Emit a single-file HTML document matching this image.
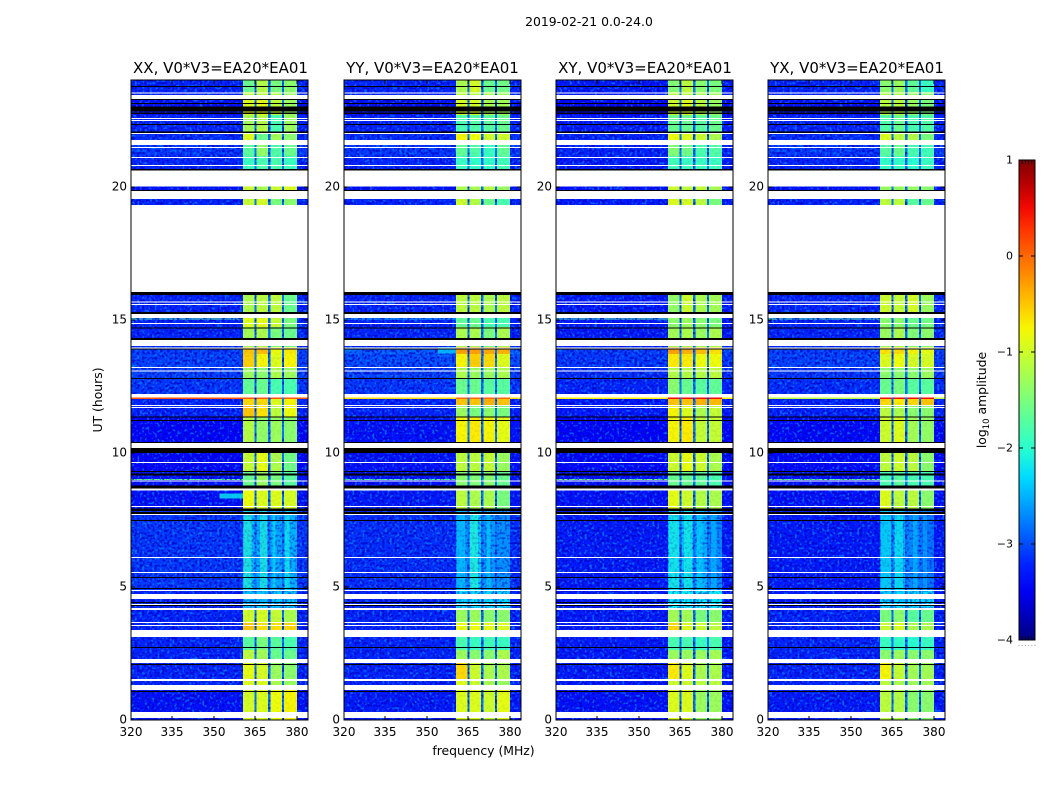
<!DOCTYPE html>
<html lang="en">
<head>
<meta charset="utf-8">
<title>2019-02-21 0.0-24.0 waterfall</title>
<style>
html,body{margin:0;padding:0;background:#fff;width:1050px;height:800px;overflow:hidden}
svg{display:block}
text{font-family:"DejaVu Sans","Liberation Sans",sans-serif;fill:#000}
</style>
</head>
<body>
<svg id="figure" xmlns="http://www.w3.org/2000/svg" width="1050" height="800" viewBox="0 0 1050 800">
  <defs>
    <filter id="speckle-light" x="0" y="0" width="100%" height="100%" color-interpolation-filters="sRGB">
      <feTurbulence type="fractalNoise" baseFrequency="0.4" numOctaves="1" seed="4"/>
      <feColorMatrix type="matrix" values="0 0 0 0 0  0 0 0 0 0.52  0 0 0 0 1  8 0 0 0 -4.3"/>
    </filter>
    <filter id="speckle-dark" x="0" y="0" width="100%" height="100%" color-interpolation-filters="sRGB">
      <feTurbulence type="fractalNoise" baseFrequency="0.4" numOctaves="1" seed="11"/>
      <feColorMatrix type="matrix" values="0 0 0 0 0  0 0 0 0 0  0 0 0 0 0.75  8 0 0 0 -4.0"/>
    </filter>
    <linearGradient id="colorbar-gradient" x1="0" y1="1" x2="0" y2="0"></linearGradient>
  </defs>
  <rect x="0" y="0" width="1050" height="800" fill="#fff"/>
  <text x="589" y="26" font-size="12.4" text-anchor="middle">2019-02-21 0.0-24.0</text>
  <text x="220.5" y="73" font-size="15" text-anchor="middle">XX, V0*V3=EA20*EA01</text>
  <text x="432.5" y="73" font-size="15" text-anchor="middle">YY, V0*V3=EA20*EA01</text>
  <text x="645" y="73" font-size="15" text-anchor="middle">XY, V0*V3=EA20*EA01</text>
  <text x="857" y="73" font-size="15" text-anchor="middle">YX, V0*V3=EA20*EA01</text>
  <text x="483.5" y="755" font-size="12.4" text-anchor="middle">frequency (MHz)</text>
  <text transform="translate(102 400) rotate(-90)" font-size="12.4" text-anchor="middle">UT (hours)</text>
  <text transform="translate(986 400) rotate(-90)" font-size="12.4" text-anchor="middle">log<tspan font-size="8.5" dy="3">10</tspan><tspan dy="-3"> amplitude</tspan></text>
  <g id="panels"></g>
  <g id="colorbar"></g>
</svg>
<script>
// Hour boundaries of the time segments, top to bottom
const segmentEdges = [24,23.55,23.29,22.69,21.98,21.75,21.15,20.63,19.8,16.05,15.26,14.74,13.99,13.73,13.24,12.83,12.23,12.04,11.78,11.36,10.39,9.34,8.63,7.88,4.88,4.13,3.64,3.38,2.63,2.29,1.5,1.13,0];

// log10 amplitude per segment: [background, band 1, band 2, band 3, band 4]
const levelsXX = [
[-3.2,-1.6,-1.15,-1.5,-1.4],[-3.2,-1.1,-1.1,-1.2,-1.3],[-3.3,-0.9,-0.85,-1.1,-1.3],[-3.2,-1.25,-1.15,-1.8,-1.3],
[-3.15,-0.9,-1.6,-1.25,-1.4],[-3.1,-1.7,-1.35,-1.75,-1.6],[-3.2,-1.9,-1.8,-1.8,-1.9],[-3.3,-1.0,-1.2,-1.0,-0.9],
[-3.2,-1.05,-0.95,-1.5,-1.4],[-3.2,-1.2,-1.1,-1.1,-1.6],[-3.2,-0.9,-0.85,-1.05,-1.5],[-3.2,-1.25,-1.2,-1.5,-1.6],
[-3.05,-0.5,-0.45,-0.8,-0.7],[-3.05,-0.55,-0.75,-0.9,-0.75],[-3.05,-1.3,-1.4,-1.2,-1.3],[-3.1,-1.65,-1.6,-1.8,-1.8],
[0.1,0.1,0.1,0.1,0.1],[-3.2,-0.6,-0.6,-0.9,-0.75],[-3.2,-0.5,-0.65,-1.1,-0.8],[-3.4,-1.15,-1.35,-1.3,-1.4],
[-3.4,-1.05,-0.85,-1.2,-1.55],[-3.3,-1.6,-1.3,-1.5,-1.7],[-3.3,-0.8,-0.9,-0.9,-0.95],[-3.1,-2.45,-2.5,-2.55,-2.5],
[-3.2,-2.4,-2.4,-2.4,-2.4],[-3.2,-1.0,-0.95,-1.05,-1.2],[-3.2,-0.5,-0.65,-0.65,-0.6],[-3.2,-1.7,-1.5,-1.7,-1.8],
[-3.2,-1.1,-1.25,-1.6,-1.6],[-3.2,-0.85,-0.95,-1.3,-1.4],[-3.2,-0.9,-0.9,-1.2,-1.3],[-3.3,-0.95,-0.9,-0.8,-0.75]];
const levelsYY = [
[-3.2,-1.2,-0.95,-1.6,-1.55],[-3.2,-1.1,-1.1,-1.2,-1.3],[-3.3,-0.95,-0.95,-1.2,-1.25],[-3.2,-1.8,-1.75,-1.7,-1.6],
[-3.15,-0.75,-0.8,-1.0,-1.0],[-3.1,-1.65,-1.75,-1.9,-1.65],[-3.2,-1.9,-1.95,-1.95,-1.85],[-3.3,-1.2,-1.2,-1.1,-1.3],
[-3.2,-1.0,-1.15,-1.6,-1.8],[-3.2,-1.1,-1.1,-1.2,-1.1],[-3.2,-1.65,-1.6,-1.8,-1.8],[-3.2,-1.2,-1.2,-1.5,-1.2],
[-2.9,-0.3,-0.3,-0.35,-0.4],[-3.0,-0.75,-0.55,-0.6,-0.9],[-3.05,-1.2,-1.3,-1.3,-1.2],[-3.1,-1.6,-1.6,-1.7,-1.7],
[-0.6,0.0,0.0,0.0,0.0],[-3.2,-0.5,-0.5,-0.4,-0.5],[-3.2,-1.3,-1.5,-1.4,-1.5],[-3.3,-0.75,-0.7,-0.75,-0.85],
[-3.3,-1.1,-1.1,-1.05,-1.3],[-3.3,-1.4,-1.45,-1.4,-1.6],[-3.25,-1.1,-1.2,-1.2,-1.5],[-3.15,-2.6,-2.35,-2.6,-2.65],
[-3.2,-2.3,-2.3,-2.3,-2.3],[-3.2,-1.3,-1.3,-1.4,-1.4],[-3.2,-0.8,-0.8,-0.85,-0.9],[-3.2,-1.8,-1.9,-1.85,-1.9],
[-3.2,-1.3,-1.4,-1.4,-1.2],[-3.2,-0.6,-1.0,-1.2,-1.2],[-3.2,-0.9,-1.0,-1.2,-1.3],[-3.25,-0.9,-0.9,-1.0,-0.85]];
const levelsXY = [
[-3.25,-1.45,-1.1,-1.4,-1.5],[-3.25,-1.1,-1.1,-1.2,-1.3],[-3.35,-1.0,-0.9,-1.1,-1.3],[-3.25,-1.6,-1.6,-1.7,-1.6],
[-3.2,-0.8,-0.9,-1.0,-1.2],[-3.2,-1.45,-1.55,-1.8,-1.75],[-3.25,-1.85,-1.9,-1.9,-1.9],[-3.3,-1.0,-1.1,-1.05,-1.2],
[-3.25,-0.9,-0.95,-1.1,-1.5],[-3.25,-1.35,-1.0,-1.2,-1.25],[-3.25,-1.4,-1.3,-1.4,-1.5],[-3.25,-1.25,-1.2,-1.3,-1.2],
[-3.05,-0.3,-0.4,-0.45,-0.65],[-3.1,-0.7,-0.7,-0.8,-0.8],[-3.15,-1.15,-1.15,-1.15,-1.1],[-3.2,-1.4,-1.6,-1.7,-1.65],
[-0.7,0.5,0.5,0.5,0.5],[-3.25,-0.5,-0.5,-0.4,-0.45],[-3.25,-0.75,-0.9,-1.2,-1.05],[-3.4,-0.75,-0.7,-1.05,-1.05],
[-3.35,-1.0,-0.85,-1.0,-1.2],[-3.3,-1.6,-1.6,-1.65,-1.8],[-3.3,-0.85,-1.0,-1.15,-1.2],[-3.25,-2.4,-2.4,-2.5,-2.7],
[-3.25,-2.2,-2.2,-2.2,-2.2],[-3.25,-1.25,-1.25,-1.5,-1.4],[-3.25,-0.6,-0.9,-1.0,-1.1],[-3.25,-1.8,-1.8,-1.9,-1.8],
[-3.25,-1.3,-1.3,-1.3,-1.25],[-3.25,-0.7,-0.9,-1.2,-1.2],[-3.25,-1.0,-1.0,-1.1,-1.1],[-3.3,-0.9,-0.9,-1.3,-1.3]];
const levelsYX = [
[-3.2,-1.4,-1.3,-1.65,-1.9],[-3.2,-1.2,-1.2,-1.3,-1.4],[-3.3,-1.1,-1.1,-1.3,-1.5],[-3.2,-1.75,-1.6,-1.8,-1.75],
[-3.15,-0.9,-1.1,-1.15,-1.5],[-3.1,-1.7,-1.6,-1.8,-1.85],[-3.2,-1.95,-1.95,-2.0,-1.9],[-3.3,-1.3,-1.3,-1.3,-1.4],
[-3.2,-1.1,-1.1,-1.7,-1.6],[-3.2,-1.0,-1.05,-0.95,-1.3],[-3.2,-1.4,-1.4,-1.6,-1.55],[-3.2,-1.3,-1.2,-1.45,-1.4],
[-3.05,-0.65,-0.6,-0.75,-0.85],[-3.05,-0.9,-0.8,-0.95,-0.95],[-3.1,-1.4,-1.4,-1.4,-1.3],[-3.15,-1.6,-1.5,-1.7,-1.7],
[-1.1,0.5,0.5,0.5,0.5],[-3.2,-0.6,-0.7,-0.6,-0.5],[-3.2,-1.1,-1.2,-1.4,-1.4],[-3.35,-1.0,-0.9,-1.25,-1.35],
[-3.35,-1.1,-1.0,-1.1,-1.4],[-3.3,-1.8,-1.7,-1.8,-1.8],[-3.3,-0.9,-1.1,-1.1,-1.4],[-3.25,-2.6,-2.5,-2.7,-2.8],
[-3.25,-2.3,-2.3,-2.3,-2.3],[-3.2,-1.5,-1.4,-1.7,-1.6],[-3.2,-1.0,-0.9,-1.2,-1.2],[-3.2,-1.9,-1.95,-2.0,-1.9],
[-3.2,-1.4,-1.3,-1.4,-1.4],[-3.2,-0.75,-1.05,-1.25,-1.25],[-3.2,-1.1,-1.2,-1.25,-1.25],[-3.25,-1.1,-1.15,-1.4,-1.4]];

// Level of the dark notches between the bands
const notchLevel = -2.8;
// Frequency edges (MHz) of the columns; source: 0 = background, 1-4 = bands, -1 = notch
const columnEdges = [320,360.5,364.6,365.4,369.6,370.4,374.6,375.4,380,384];
const columnSources = [0,1,-1,2,-1,3,-1,4,0];

// Brighter vertical streaks in the quiet hours: [panel, MHz from, MHz to, level]
const streaks = [
[0,360.7,363.6,-1.95],[0,366.6,369.1,-2.0],[0,371.2,372.3,-2.2],[0,375.6,377.4,-2.1],
[1,360.9,363.8,-2.35],[1,365.6,368.5,-1.95],[1,371.5,373.0,-2.3],
[2,360.9,364.4,-2.05],[2,366.3,369.2,-2.05],[2,371.0,373.0,-2.3],[2,376.0,378.0,-2.4],
[3,360.9,364.4,-2.2],[3,366.0,368.9,-2.15],[3,372.5,374.0,-2.4],[3,376.0,377.5,-2.5]];
const streakHours = [7.88,4.88];

// Narrow bright interference rows: [hour top, hour bottom, level per panel XX, YY, XY, YX]
const brightRows = [[15.06,15.02,-1.7,-2.3,-1.7,-1.7],[9.04,9.0,-1.6,-1.7,-1.5,-1.6]];
// Broadband patches just below the band: [panel, MHz from, MHz to, hour top, hour bottom, level]
const patches = [[0,352,360.5,8.5,8.3,-2.2],[1,354,360.5,13.99,13.75,-2.4]];

// Flagged (blank) time ranges [hour top, hour bottom]
const flaggedRanges = [[23.53,23.49],[23.44,23.29],[22.58,22.54],[22.5,22.46],[22.01,21.98],[21.75,21.56],[21.49,21.45],[21.11,21.08],[20.81,20.78],[20.61,20.0],[19.85,19.54],[19.31,16.05],[15.69,15.66],[15.6,15.56],[15.23,15.08],[14.89,14.85],[14.25,14.03],[13.97,13.93],[13.24,13.2],[13.11,13.07],[12.23,12.09],[11.82,11.8],[11.74,11.7],[10.39,10.2],[9.68,9.64],[8.98,8.94],[8.68,8.61],[8.03,7.99],[7.73,7.69],[6.11,6.08],[5.55,5.51],[4.88,4.84],[4.73,4.54],[4.35,4.31],[4.2,4.13],[3.68,3.64],[3.56,3.53],[3.38,3.11],[2.29,2.14],[1.54,1.46],[1.31,1.13],[0.3,0.08]];
// Zero-valued time ranges [hour top, hour bottom]
const zeroRanges = [[23.78,23.74],[23.29,23.25],[23.14,23.1],[23.0,22.82],[22.78,22.73],[22.35,22.31],[22.07,22.01],[20.66,20.61],[19.88,19.85],[16.05,15.94],[15.3,15.23],[14.72,14.7],[14.33,14.25],[13.93,13.91],[12.83,12.79],[11.38,11.34],[11.25,11.21],[10.43,10.39],[10.2,10.01],[9.34,9.3],[9.24,9.17],[8.79,8.68],[7.93,7.84],[7.8,7.73],[7.5,7.46],[5.36,5.33],[4.95,4.91],[4.43,4.39],[4.31,4.28],[2.74,2.7],[2.1,2.06],[1.09,1.05]];

// Tick values and labels
const freqTicks = [320,335,350,365,380];
const hourTicks = [0,5,10,15,20];
const colorTicks = [1,0,-1,-2,-3,-4];
const colorTickLabels = ['1','0','\u22121','\u22122','\u22123','\u22124'];

const panelLevels = [levelsXX, levelsYY, levelsXY, levelsYX];
const panelNames = ['xx','yy','xy','yx'];
const panelLefts = [131,344,556,768];
const plotWidth = 177, plotTop = 80, plotBottom = 720;
const NS = 'http://www.w3.org/2000/svg';

function xScale(left, f){ return left + (f - 320) * plotWidth / 64; }
function yScale(h){ return plotBottom - h * (plotBottom - plotTop) / 24; }
function interp(t, pts){
  for (let i = 1; i < pts.length; i++) {
    if (t <= pts[i][0]) {
      const a = pts[i-1], b = pts[i];
      return a[1] + (b[1]-a[1]) * (t-a[0]) / (b[0]-a[0]);
    }
  }
  return pts[pts.length-1][1];
}
function jet(level){
  const t = Math.max(0, Math.min(1, (level + 4) / 5));
  const r = interp(t, [[0,0],[0.35,0],[0.66,1],[0.89,1],[1,0.5]]);
  const g = interp(t, [[0,0],[0.125,0],[0.375,1],[0.64,1],[0.91,0],[1,0]]);
  const b = interp(t, [[0,0.5],[0.11,1],[0.34,1],[0.65,0],[1,0]]);
  return 'rgb(' + Math.round(r*255) + ',' + Math.round(g*255) + ',' + Math.round(b*255) + ')';
}
function make(tag, attrs, parent){
  const el = document.createElementNS(NS, tag);
  for (const k in attrs) el.setAttribute(k, attrs[k]);
  parent.appendChild(el);
  return el;
}

const panelsRoot = document.getElementById('panels');

panelLefts.forEach(function(left, p){
  const g = make('g', {'shape-rendering':'crispEdges'}, panelsRoot);
  
  

  // Amplitude cells
  panelLevels[p].forEach(function(row, s){
    const y0 = yScale(segmentEdges[s]), y1 = yScale(segmentEdges[s+1]);
    columnSources.forEach(function(src, c){
      const level = src < 0 ? notchLevel : row[src];
      const x0 = xScale(left, columnEdges[c]), x1 = xScale(left, columnEdges[c+1]);
      const cell = make('rect', {x:x0, y:y0, width:x1-x0, height:y1-y0, fill:jet(level)}, g);
      
      
    });
  });

  // Bright interference rows
  brightRows.forEach(function(r){
    const x0 = xScale(left, 320), x1 = xScale(left, 360.5);
    const row = make('rect', {x:x0, y:yScale(r[0]), width:x1-x0, height:Math.max(1, yScale(r[1])-yScale(r[0])), fill:jet(r[2+p])}, g);
    
    
  });

  // Receiver noise texture over the whole plot
  const lightNoise = make('rect', {x:left, y:plotTop, width:plotWidth, height:plotBottom-plotTop, fill:'#000', filter:'url(#speckle-light)', opacity:0.7}, g);
  
  
  const darkNoise = make('rect', {x:left, y:plotTop, width:plotWidth, height:plotBottom-plotTop, fill:'#000', filter:'url(#speckle-dark)', opacity:0.7}, g);
  
  

  // Re-lay the band interiors so the speckle is only faint there; the strong line row stays solid
  panelLevels[p].forEach(function(row, s){
    const y0 = yScale(segmentEdges[s]), y1 = yScale(segmentEdges[s+1]);
    const isLineRow = row[0] > -2;
    columnSources.forEach(function(src, c){
      if (src < 0 || (src === 0 && !isLineRow)) return;
      const x0 = xScale(left, columnEdges[c]), x1 = xScale(left, columnEdges[c+1]);
      const quiet = s === 23 || s === 24;
      const veil = make('rect', {x:x0, y:y0, width:x1-x0, height:y1-y0, fill:jet(row[src]), opacity: quiet ? 0.4 : (isLineRow ? 1 : 0.93)}, g);
      
      
    });
  });

  // Vertical streaks in the quiet hours
  streaks.filter(function(q){ return q[0] === p; }).forEach(function(q){
    const streak = make('rect', {x:xScale(left,q[1]), y:yScale(streakHours[0]), width:xScale(left,q[2])-xScale(left,q[1]), height:yScale(streakHours[1])-yScale(streakHours[0]), fill:jet(q[3]), opacity:0.55}, g);
    
    
  });

  // Broadband patches
  patches.filter(function(q){ return q[0] === p; }).forEach(function(q){
    const patch = make('rect', {x:xScale(left,q[1]), y:yScale(q[3]), width:xScale(left,q[2])-xScale(left,q[1]), height:yScale(q[4])-yScale(q[3]), fill:jet(q[5]), opacity:0.8}, g);
    
    
  });

  // Flagged (white) and zero (black) time ranges
  flaggedRanges.forEach(function(r){
    const gap = make('rect', {x:left, y:yScale(r[0]), width:plotWidth, height:Math.max(1, yScale(r[1])-yScale(r[0])), fill:'#fff'}, g);
    
    
  });
  zeroRanges.forEach(function(r){
    const gap = make('rect', {x:left, y:yScale(r[0]), width:plotWidth, height:Math.max(1, yScale(r[1])-yScale(r[0])), fill:'#000'}, g);
    
    
  });

  // Frame
  const frame = make('rect', {x:left, y:plotTop, width:plotWidth, height:plotBottom-plotTop, fill:'none', stroke:'#000', 'stroke-width':1}, g);
  
  

  // Frequency ticks
  freqTicks.forEach(function(f){
    const x = Math.round(xScale(left, f));
    const tb = make('line', {x1:x, x2:x, y1:plotBottom, y2:plotBottom-4, stroke:'#000'}, g);
    
    
    const tt = make('line', {x1:x, x2:x, y1:plotTop, y2:plotTop+4, stroke:'#000'}, g);
    
    
    const label = make('text', {x:x, y:736, 'font-size':12, 'text-anchor':'middle'}, panelsRoot);
    
    
    label.textContent = String(f);
  });

  // Hour ticks
  hourTicks.forEach(function(h){
    const y = Math.round(yScale(h));
    const tl = make('line', {x1:left, x2:left+4, y1:y, y2:y, stroke:'#000'}, g);
    
    
    const tr = make('line', {x1:left+plotWidth, x2:left+plotWidth-4, y1:y, y2:y, stroke:'#000'}, g);
    
    
    const label = make('text', {x:left-4, y:y+3.5, 'font-size':12, 'text-anchor':'end'}, panelsRoot);
    
    
    label.textContent = String(h);
  });
});

// Colorbar
const cb = document.getElementById('colorbar');
const cbLeft = 1019, cbWidth = 16, cbTop = 160, cbBottom = 640;
function cbY(v){ return cbBottom - (v + 4) * (cbBottom - cbTop) / 5; }
const grad = document.getElementById('colorbar-gradient');
[-4,-3.5,-3.2,-3,-2.75,-2.5,-2.3,-2,-1.75,-1.5,-1.25,-1,-0.75,-0.5,-0.25,0,0.25,0.5,0.75,1].forEach(function(v){
  make('stop', {offset:((v+4)/5).toFixed(3), 'stop-color':jet(v)}, grad);
});
const cbBar = make('rect', {x:cbLeft, y:cbTop, width:cbWidth, height:cbBottom-cbTop, fill:'url(#colorbar-gradient)', stroke:'#000', 'stroke-width':1, 'shape-rendering':'crispEdges'}, cb);



colorTicks.forEach(function(v, i){
  const y = Math.round(cbY(v));
  const tl = make('line', {x1:cbLeft, x2:cbLeft+4, y1:y, y2:y, stroke:'#000', 'shape-rendering':'crispEdges'}, cb);
  
  
  const tr = make('line', {x1:cbLeft+cbWidth, x2:cbLeft+cbWidth-4, y1:y, y2:y, stroke:'#000', 'shape-rendering':'crispEdges'}, cb);
  
  
  const label = make('text', {x:1013, y:y+3.5, 'font-size':11, 'text-anchor':'end'}, cb);
  
  
  label.textContent = colorTickLabels[i];
});

// Small end ticks and faint dots beneath the colorbar
[3.2,6.4,9.6,12.8].forEach(function(dx){
  const top = make('line', {x1:cbLeft+dx, x2:cbLeft+dx, y1:cbTop, y2:cbTop+4, stroke:'#000', 'stroke-width':0.8}, cb);
  
  
  const bottom = make('line', {x1:cbLeft+dx, x2:cbLeft+dx, y1:cbBottom, y2:cbBottom-4, stroke:'#000', 'stroke-width':0.8}, cb);
  
  
});
[0,3.2,6.4,9.6,12.8,16].forEach(function(dx){
  const dot = make('rect', {x:cbLeft+dx-0.5, y:645, width:1, height:1, fill:'#999'}, cb);
  
  
});
</script>
</body>
</html>
